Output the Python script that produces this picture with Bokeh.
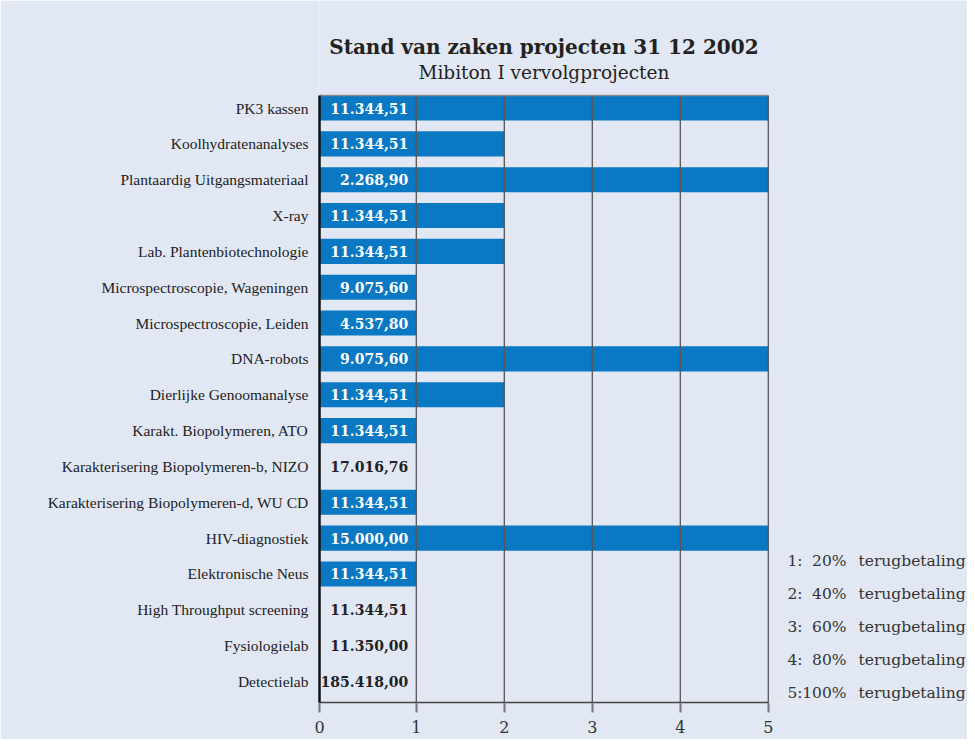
from bokeh.plotting import figure
from bokeh.models import ColumnDataSource, FixedTicker, Range1d
from bokeh.core.properties import value
from bokeh.embed import file_html
from bokeh.resources import INLINE

# ---- data ----
projects = [
    "PK3 kassen",
    "Koolhydratenanalyses",
    "Plantaardig Uitgangsmateriaal",
    "X-ray",
    "Lab. Plantenbiotechnologie",
    "Microspectroscopie, Wageningen",
    "Microspectroscopie, Leiden",
    "DNA-robots",
    "Dierlijke Genoomanalyse",
    "Karakt. Biopolymeren, ATO",
    "Karakterisering Biopolymeren-b, NIZO",
    "Karakterisering Biopolymeren-d, WU CD",
    "HIV-diagnostiek",
    "Elektronische Neus",
    "High Throughput screening",
    "Fysiologielab",
    "Detectielab",
]
status = [5, 2, 5, 2, 2, 1, 1, 5, 2, 1, 0, 1, 5, 1, 0, 0, 0]
amounts = [
    "11.344,51", "11.344,51", "2.268,90", "11.344,51", "11.344,51",
    "9.075,60", "4.537,80", "9.075,60", "11.344,51", "11.344,51",
    "17.016,76", "11.344,51", "15.000,00", "11.344,51", "11.344,51",
    "11.350,00", "185.418,00",
]
x_ticks = [0, 1, 2, 3, 4, 5]
legend_keys = ["1:", "2:", "3:", "4:", "5:"]
legend_pcts = ["20%", "40%", "60%", "80%", "100%"]
legend_text = ["terugbetaling"] * 5

title_text = "Stand van zaken projecten 31 12 2002"
subtitle_text = "Mibiton I vervolgprojecten"

# ---- style / layout ----
BG = "#e1e8f4"
BAR = "#0a78c2"
SERIF = "DejaVu Serif"
LABEL_FONT = "Liberation Serif"
W, H = 967, 739
X0 = -0.1            # visual axis origin offset used by the original chart
XMAX = x_ticks[-1]
BORDER_L, BORDER_B = 319, 37
CHART_TOP_PX = 95    # top of the bar area, in page pixels
XU, YU = 88.0, 35.84  # pixels per unit
n = len(projects)
Y_LO, Y_HI = -0.586, (n - 1) + 0.349


def px2x(px):
    return X0 + (px - BORDER_L) / XU


def px2y(py):
    return Y_HI + (CHART_TOP_PX - py) / YU


ypos = [n - 1 - i for i in range(n)]
bar_right = [X0 if s == 0 else s for s in status]
txt_color = ["white" if s > 0 else "#222222" for s in status]
txt_x = [x_ticks[1]] * n

src = ColumnDataSource(dict(y=ypos, left=[X0] * n, right=bar_right,
                            amt=amounts, tc=txt_color, tx=txt_x))

p = figure(width=W, height=H, output_backend="svg", toolbar_location=None,
           x_range=Range1d(X0, px2x(W)), y_range=Range1d(Y_LO, px2y(0)),
           min_border_left=BORDER_L, min_border_right=0,
           min_border_top=0, min_border_bottom=BORDER_B,
           background_fill_color=BG, background_fill_alpha=1.0,
           border_fill_color=BG, border_fill_alpha=1.0)
p.outline_line_color = None
p.grid.grid_line_color = None

# bars
p.hbar(y="y", left="left", right="right", height=0.7, source=src,
       fill_color=BAR, line_color=None)

# vertical grid lines (over the bars) and top edge of the chart box
gx = x_ticks[1:]
p.segment(x0=gx, x1=gx, y0=[Y_LO] * len(gx), y1=[Y_HI] * len(gx),
          line_color="#555555", line_width=1.3)
p.segment(x0=[X0], x1=[XMAX], y0=[Y_HI], y1=[Y_HI],
          line_color="#8a8a8a", line_width=1.5)

# values
p.text(x="tx", y="y", text="amt", source=src, text_align="right",
       text_baseline="middle", x_offset=-8, text_color="tc",
       text_font=value(SERIF), text_font_style="bold", text_font_size="14px")

# axes
tick_vals = [X0] + x_ticks[1:]
p.xaxis.bounds = (X0, XMAX)
p.xaxis.ticker = FixedTicker(ticks=tick_vals)
p.xaxis.major_label_overrides = {X0: str(x_ticks[0])}
p.xaxis.major_label_text_font = SERIF
p.xaxis.major_label_text_font_size = "16px"
p.xaxis.major_label_text_color = "#333333"
p.xaxis.major_label_standoff = 8
p.xaxis.axis_line_color = "#444444"
p.xaxis.axis_line_width = 1.5
p.xaxis.major_tick_line_color = "#777777"
p.xaxis.major_tick_line_width = 2
p.xaxis.major_tick_out = 10
p.xaxis.major_tick_in = 0
p.xaxis.minor_tick_line_color = None

p.yaxis.bounds = (Y_LO, Y_HI)
p.yaxis.ticker = FixedTicker(ticks=ypos)
p.yaxis.major_label_overrides = {y: name for y, name in zip(ypos, projects)}
p.yaxis.major_label_text_font = LABEL_FONT
p.yaxis.major_label_text_font_size = "15.5px"
p.yaxis.major_label_text_color = "#222222"
p.yaxis.major_label_standoff = 5
p.yaxis.axis_line_color = "#111111"
p.yaxis.axis_line_width = 2.5
p.yaxis.major_tick_line_color = None
p.yaxis.minor_tick_line_color = None

# titles (centred over the chart box)
mid = (X0 + XMAX) / 2
p.text(x=[mid], y=[px2y(46)], text=[title_text], text_align="center",
       text_baseline="middle", text_font=value(SERIF), text_font_style="bold",
       text_font_size="20px", text_color="#222222")
p.text(x=[mid], y=[px2y(72)], text=[subtitle_text], text_align="center",
       text_baseline="middle", text_font=value(SERIF), text_font_size="18.5px",
       text_color="#222222")

# legend text at right
m = len(legend_keys)
leg_y = [px2y(560 + 33 * i) for i in range(m)]
lsrc = ColumnDataSource(dict(y=leg_y, k=legend_keys, pc=legend_pcts, t=legend_text,
                             xk=[px2x(787)] * m, xp=[px2x(846)] * m,
                             xt=[px2x(858)] * m))
common = dict(y="y", source=lsrc, text_font=value(SERIF), text_font_size="15.5px",
              text_color="#333333", text_baseline="middle")
p.text(x="xk", text="k", text_align="left", **common)
p.text(x="xp", text="pc", text_align="right", **common)
p.text(x="xt", text="t", text_align="left", **common)

open("out.html", "w").write(file_html(p, INLINE))
